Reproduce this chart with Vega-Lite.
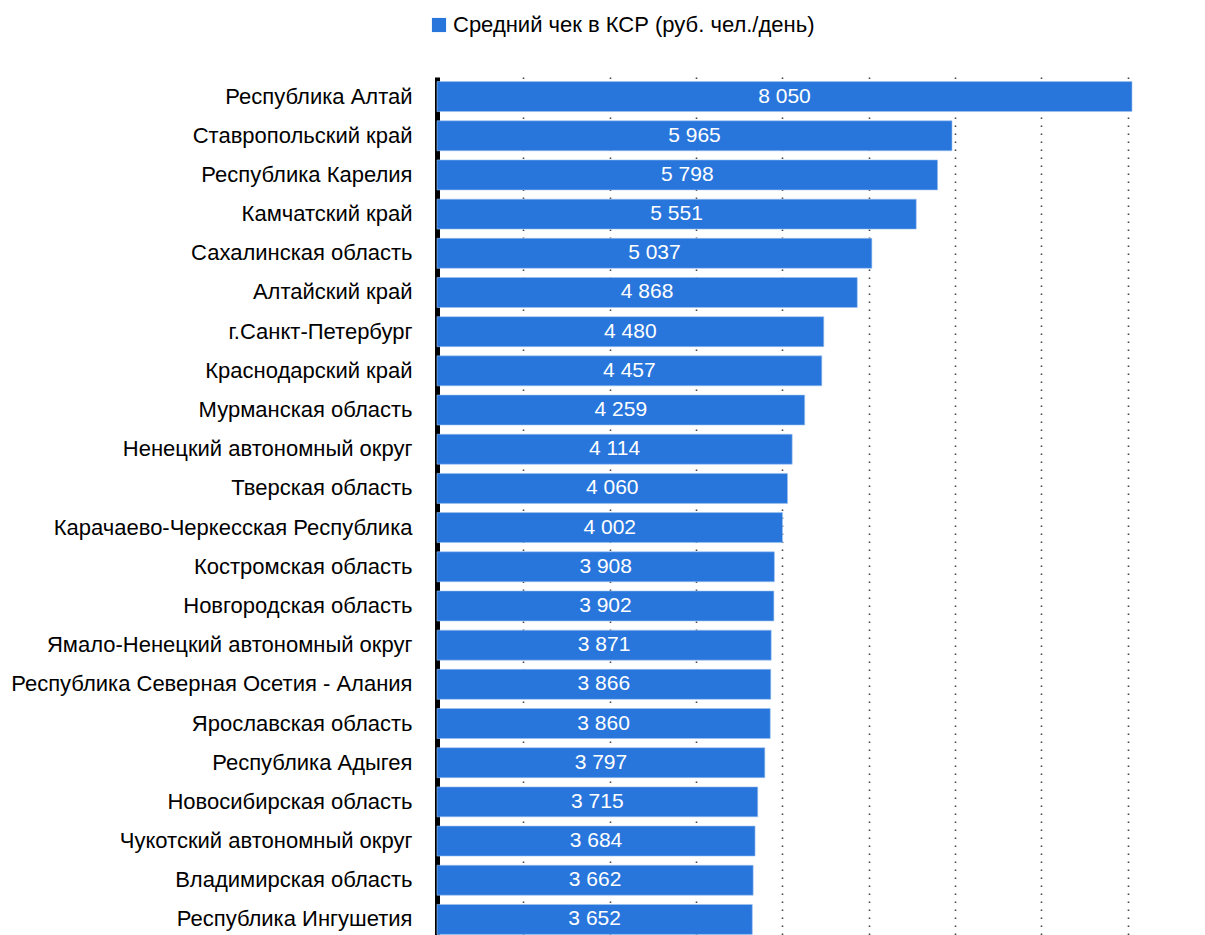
{
  "$schema": "https://vega.github.io/schema/vega-lite/v6.json",
  "autosize": {"type": "none"},
  "padding": {"left": 437, "top": 77, "right": 73, "bottom": 0},
  "width": 695,
  "height": 862,
  "background": "white",
  "config": {
    "locale": {"number": {"decimal": ",", "thousands": " ", "grouping": [3], "currency": ["", " ₽"]}},
    "font": "Liberation Sans, Arial, sans-serif",
    "view": {"stroke": null}
  },
  "data": {
    "values": [
      {"region": "Республика Алтай", "value": 8050},
      {"region": "Ставропольский край", "value": 5965},
      {"region": "Республика Карелия", "value": 5798},
      {"region": "Камчатский край", "value": 5551},
      {"region": "Сахалинская область", "value": 5037},
      {"region": "Алтайский край", "value": 4868},
      {"region": "г.Санкт-Петербург", "value": 4480},
      {"region": "Краснодарский край", "value": 4457},
      {"region": "Мурманская область", "value": 4259},
      {"region": "Ненецкий автономный округ", "value": 4114},
      {"region": "Тверская область", "value": 4060},
      {"region": "Карачаево-Черкесская Республика", "value": 4002},
      {"region": "Костромская область", "value": 3908},
      {"region": "Новгородская область", "value": 3902},
      {"region": "Ямало-Ненецкий автономный округ", "value": 3871},
      {"region": "Республика Северная Осетия - Алания", "value": 3866},
      {"region": "Ярославская область", "value": 3860},
      {"region": "Республика Адыгея", "value": 3797},
      {"region": "Новосибирская область", "value": 3715},
      {"region": "Чукотский автономный округ", "value": 3684},
      {"region": "Владимирская область", "value": 3662},
      {"region": "Республика Ингушетия", "value": 3652}
    ]
  },
  "encoding": {
    "y": {
      "field": "region",
      "type": "nominal",
      "sort": null,
      "scale": {"paddingInner": 0.235, "paddingOuter": 0.117},
      "axis": {
        "title": null,
        "ticks": false,
        "domainColor": "#000000",
        "domainWidth": 5,
        "labelFont": "Liberation Sans, Arial, sans-serif",
        "labelFontSize": 22,
        "labelColor": "#000000",
        "labelPadding": 25,
        "labelLimit": 440
      }
    }
  },
  "layer": [
    {
      "mark": {"type": "bar", "color": "#2876DC", "stroke": "#9ec3f0", "strokeWidth": 0.6},
      "encoding": {
        "x": {
          "field": "value",
          "type": "quantitative",
          "scale": {"domain": [0, 8050], "nice": false},
          "axis": {
            "orient": "top",
            "title": null,
            "values": [1000, 2000, 3000, 4000, 5000, 6000, 7000, 8000],
            "labels": false,
            "ticks": false,
            "domain": false,
            "grid": true,
            "gridColor": "#444444",
            "gridWidth": 1.6,
            "gridDash": [1.6, 6.4]
          }
        },
        "color": {
          "datum": "Средний чек в КСР (руб. чел./день)",
          "type": "nominal",
          "scale": {"range": ["#2876DC"]},
          "legend": {
            "title": null,
            "orient": "none",
            "legendX": -9,
            "legendY": -63,
            "symbolType": "square",
            "symbolSize": 200,
            "symbolStrokeWidth": 0,
            "labelFont": "Liberation Sans, Arial, sans-serif",
            "labelFontSize": 22,
            "labelColor": "#000000",
            "labelOffset": 3,
            "labelLimit": 500
          }
        }
      }
    },
    {
      "mark": {
        "type": "text",
        "color": "#ffffff",
        "align": "center",
        "baseline": "middle",
        "fontSize": 21,
        "font": "Liberation Sans, Arial, sans-serif"
      },
      "encoding": {
        "x": {
          "field": "value",
          "type": "quantitative",
          "scale": {"domain": [0, 16100], "nice": false},
          "axis": null
        },
        "text": {"field": "value", "type": "quantitative", "format": ",d"}
      }
    }
  ],
  "resolve": {"scale": {"x": "independent"}}
}
